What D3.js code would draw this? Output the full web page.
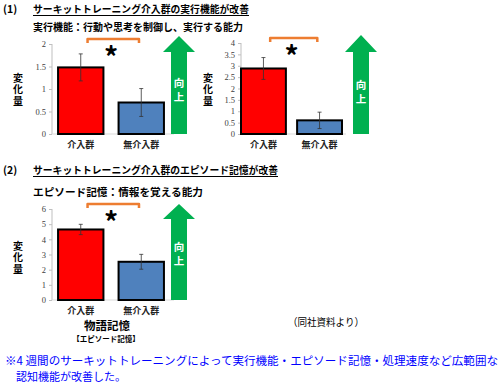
<!DOCTYPE html>
<html>
<head>
<meta charset="utf-8">
<script src="https://cdn.jsdelivr.net/npm/d3@7"></script>
<style>
  body { margin: 0; background: #fff; }
  svg { display: block; font-family: "Noto Sans CJK JP", sans-serif; }
  .tick text { fill: #404040; font-size: 8.5px; font-family: "Liberation Serif", serif; }
  .axis path, .axis line { stroke: #bfbfbf; }
  .vert { writing-mode: vertical-rl; text-orientation: upright; }
</style>
</head>
<body>
<div id="chart"></div>
<script>
// data
const categories = ["介入群", "無介入群"];

const execA = [1.48, 0.70];       // 実行機能 (left)
const execAErr = [0.30, 0.31];
const execATicks = [0, 0.5, 1, 1.5, 2];

const execB = [2.88, 0.60];       // 実行機能 (right)
const execBErr = [0.48, 0.36];
const execBTicks = [0, 0.5, 1, 1.5, 2, 2.5, 3, 3.5, 4];

const episode = [4.65, 2.52];     // 物語記憶
const episodeErr = [0.34, 0.49];
const episodeTicks = [0, 1, 2, 3, 4, 5, 6];

const barColors = ["#ff0000", "#4f81bd"];

const svg = d3.select("#chart").append("svg")
  .attr("width", 500)
  .attr("height", 385);

// headings
function heading(num, title, sub, y, subY, titleLen, subLen) {
  svg.append("text").attr("x", 3).attr("y", y)
    .attr("font-size", 10.5).attr("font-weight", "bold").text(num);
  svg.append("text").attr("x", 33).attr("y", y)
    .attr("font-size", 10).attr("font-weight", "bold")
    .attr("textLength", titleLen).attr("lengthAdjust", "spacingAndGlyphs")
    .text(title);
  svg.append("line")
    .attr("x1", 33).attr("x2", 33 + titleLen)
    .attr("y1", y + 2.5).attr("y2", y + 2.5)
    .attr("stroke", "#000").attr("stroke-width", 1);
  svg.append("text").attr("x", 33).attr("y", subY)
    .attr("font-size", 10.5).attr("font-weight", "bold")
    .attr("textLength", subLen).attr("lengthAdjust", "spacingAndGlyphs")
    .text(sub);
}

heading("(1)", "サーキットトレーニング介入群の実行機能が改善",
  "実行機能：行動や思考を制御し、実行する能力", 13, 31, 216, 210);
heading("(2)", "サーキットトレーニング介入群のエピソード記憶が改善",
  "エピソード記憶：情報を覚える能力", 174, 196, 245, 170);

function drawPanel(cfg) {
  let y = d3.scaleLinear()
    .domain([0, d3.max(cfg.ticks)])
    .range([cfg.bottom, cfg.top]);

  let x = d3.scaleBand()
    .domain(categories)
    .range(cfg.xRange)
    .paddingInner(cfg.padIn)
    .paddingOuter(cfg.padOut);

  let g = svg.append("g");

  // y axis
  let yAxis = d3.axisLeft(y)
    .tickValues(cfg.ticks)
    .tickSize(3)
    .tickPadding(3)
    .tickFormat(d3.format("~g"));

  g.append("g")
    .attr("class", "axis")
    .attr("transform", "translate(" + cfg.axisX + ",0)")
    .call(yAxis)
    .call(a => a.select(".domain").attr("d", "M0," + cfg.bottom + "V" + cfg.top));

  // baseline
  g.append("line")
    .attr("x1", cfg.axisX).attr("x2", cfg.xRange[1] + 4)
    .attr("y1", y(0)).attr("y2", y(0))
    .attr("stroke", "#d9d9d9");

  // bars
  g.selectAll(".bar")
    .data(cfg.values)
    .enter().append("rect")
    .attr("x", (d, i) => x(categories[i]))
    .attr("y", d => y(d))
    .attr("width", x.bandwidth())
    .attr("height", d => y(0) - y(d))
    .attr("fill", (d, i) => barColors[i])
    .attr("stroke", "#000")
    .attr("stroke-width", 2);

  // error bars
  let eb = g.selectAll(".err")
    .data(cfg.values)
    .enter().append("g");
  eb.append("line")
    .attr("x1", (d, i) => x(categories[i]) + x.bandwidth() / 2)
    .attr("x2", (d, i) => x(categories[i]) + x.bandwidth() / 2)
    .attr("y1", (d, i) => y(d - cfg.err[i]))
    .attr("y2", (d, i) => y(d + cfg.err[i]))
    .attr("stroke", "#333").attr("stroke-width", 0.8);
  [-1, 1].forEach(s => {
    eb.append("line")
      .attr("x1", (d, i) => x(categories[i]) + x.bandwidth() / 2 - 2)
      .attr("x2", (d, i) => x(categories[i]) + x.bandwidth() / 2 + 2)
      .attr("y1", (d, i) => y(d + s * cfg.err[i]))
      .attr("y2", (d, i) => y(d + s * cfg.err[i]))
      .attr("stroke", "#333").attr("stroke-width", 0.8);
  });

  // category labels
  g.selectAll(".cat")
    .data(categories)
    .enter().append("text")
    .attr("x", d => x(d) + x.bandwidth() / 2)
    .attr("y", cfg.bottom + 13.5)
    .attr("text-anchor", "middle")
    .attr("font-size", 9)
    .attr("font-weight", "bold")
    .attr("fill", "#222")
    .text(d => d);

  // y title, vertical
  g.append("text")
    .attr("class", "vert")
    .attr("x", cfg.titleX)
    .attr("y", cfg.titleY)
    .attr("font-size", 10)
    .attr("font-weight", "bold")
    .attr("letter-spacing", 1.5)
    .text("変化量");

  // significance bracket
  let bx1 = x(categories[0]) + x.bandwidth() * 0.65;
  let bx2 = x(categories[1]) + x.bandwidth() * 0.45;
  g.append("path")
    .attr("d", "M" + bx1 + "," + (cfg.bracketY + 4) + "V" + cfg.bracketY +
      "H" + bx2 + "V" + (cfg.bracketY + 4))
    .attr("fill", "none")
    .attr("stroke", "#ed7d31")
    .attr("stroke-width", 2.5)
    .attr("stroke-linejoin", "round");
  g.append("text")
    .attr("x", (x(categories[0]) + x(categories[1]) + x.bandwidth()) / 2)
    .attr("y", cfg.bracketY + 29)
    .attr("text-anchor", "middle")
    .attr("font-size", 28)
    .attr("font-weight", "bold")
    .text("*");

  // green arrow
  let a = cfg.arrow;
  g.append("path")
    .attr("d", "M" + (a.cx - 8) + "," + a.bottom +
      "V" + a.base + "H" + (a.cx - 16) + "L" + a.cx + "," + a.tip +
      "L" + (a.cx + 16) + "," + a.base + "H" + (a.cx + 8) + "V" + a.bottom + "Z")
    .attr("fill", "#00b050");
  g.append("text")
    .attr("class", "vert")
    .attr("x", a.cx)
    .attr("y", a.textY)
    .attr("font-size", 10.5)
    .attr("font-weight", "bold")
    .attr("fill", "#fff")
    .attr("letter-spacing", 3.5)
    .text("向上");
}

drawPanel({
  values: execA, err: execAErr, ticks: execATicks,
  top: 44, bottom: 134, axisX: 52,
  xRange: [52, 170], padIn: 0.25, padOut: 0.1,
  titleX: 18, titleY: 73, bracketY: 39,
  arrow: { cx: 179, bottom: 134, base: 52, tip: 36, textY: 78 }
});

drawPanel({
  values: execB, err: execBErr, ticks: execBTicks,
  top: 43, bottom: 134, axisX: 241,
  xRange: [241, 342], padIn: 0.2, padOut: 0,
  titleX: 208, titleY: 73, bracketY: 38,
  arrow: { cx: 361, bottom: 134, base: 52, tip: 35, textY: 80 }
});

drawPanel({
  values: episode, err: episodeErr, ticks: episodeTicks,
  top: 209, bottom: 300, axisX: 52,
  xRange: [52, 170], padIn: 0.25, padOut: 0.1,
  titleX: 18, titleY: 241, bracketY: 204,
  arrow: { cx: 179, bottom: 300, base: 219, tip: 204, textY: 242 }
});

// captions under the bottom chart
svg.append("text").attr("x", 107).attr("y", 329.5)
  .attr("text-anchor", "middle").attr("font-size", 11.5).attr("font-weight", "bold")
  .text("物語記憶");
svg.append("text").attr("x", 106).attr("y", 341.5)
  .attr("text-anchor", "middle").attr("font-size", 7.5).attr("font-weight", "bold")
  .text("【エピソード記憶】");
svg.append("text").attr("x", 288).attr("y", 326)
  .attr("font-size", 10.5)
  .attr("textLength", 76).attr("lengthAdjust", "spacingAndGlyphs")
  .text("（同社資料より）");

// footnote
svg.append("text").attr("x", 5).attr("y", 365)
  .attr("font-size", 11.5).attr("fill", "#0000ff")
  .attr("textLength", 493).attr("lengthAdjust", "spacingAndGlyphs")
  .text("※4 週間のサーキットトレーニングによって実行機能・エピソード記憶・処理速度など広範囲な");
svg.append("text").attr("x", 16).attr("y", 381)
  .attr("font-size", 11).attr("fill", "#0000ff")
  .text("認知機能が改善した。");
</script>
</body>
</html>
